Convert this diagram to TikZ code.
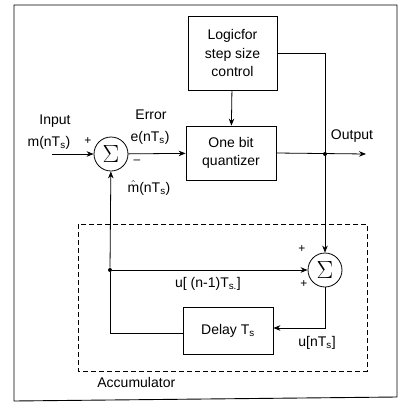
\documentclass[tikz,border=0pt]{standalone}
\usepackage{fontspec}
\setmainfont{Liberation Sans}
\usetikzlibrary{arrows.meta}
\begin{document}
\begin{tikzpicture}[x=1pt,y=-1pt,
  line width=0.8pt,
  blk/.style={draw,rectangle,inner sep=0pt,font=\fontsize{14}{18.5}\selectfont,align=center},
  sumnode/.style={draw,circle,minimum size=34pt,inner sep=0pt,font=\fontsize{24}{24}\selectfont},
  lbl/.style={font=\fontsize{14}{16}\selectfont,inner sep=0pt,align=center},
  sgn/.style={font=\fontsize{12}{12}\selectfont,inner sep=0pt},
  arr/.style={-{Stealth[length=7pt,width=5.5pt]}},
  dot/.style={circle,fill,inner sep=0pt,minimum size=4pt}]
\useasboundingbox (0,0) rectangle (407,413);
% outer frame
\draw[line width=0.9pt] (14,5) -- (397,5) -- (397,397) -- (14,401) -- cycle;
% blocks
\node[blk,minimum width=89pt,minimum height=74pt] (logic) at (232.5,53) {Logicfor\\step size\\control};
\node[blk,minimum width=90pt,minimum height=54pt] (quant) at (231,153) {One bit\\quantizer};
\node[blk,minimum width=90pt,minimum height=47pt] (delay) at (228,330.5) {Delay T\textsubscript{s}};
\node[sumnode] (s1) at (111,154) {$\Sigma$};
\node[sumnode] (s2) at (325,270) {$\Sigma$};
% accumulator dashed box
\draw[dashed,dash pattern=on 5pt off 3pt] (78,224) rectangle (367,371);
\node[lbl,anchor=west] (acc) at (97,382) {Accumulator};
% coordinates
\coordinate (inp) at (52,154);
\coordinate (out) at (366,154);
\node[dot] (j1) at (325,154) {};
\node[dot] (j2) at (110,270) {};
\coordinate (c1) at (325,53);
\coordinate (c2) at (325,328);
\coordinate (c3) at (110,333);
% connectors
\draw[arr] (inp) -- (s1);
\draw[arr] (s1) -- (quant);
\draw[arr] (logic) -- (quant);
\draw[arr] (quant.east) -- (out);
\draw[arr] (logic.east |- c1) -- (c1) -- (s2);
\draw[arr] (j2) -- (s2);
\draw[arr] (s2) -- (c2) -- (delay.east |- c2);
\draw (delay.west |- c3) -- (c3) -- (j2);
\draw[arr] (j2) -- (s1);
% labels
\node[lbl] (l1) at (55,121) {Input};
\node[lbl] (l2) at (49,143) {m(nT\textsubscript{s})};
\node[sgn] (p1) at (88,141) {+};
\node[sgn] (m1) at (137,162) {--};
\node[lbl] (l3) at (151,115) {Error};
\node[lbl] (l4) at (150,138) {e(nT\textsubscript{s})};
\node[lbl] (l5) at (149,188) {\ensuremath{\hat{\mbox{m}}}(nT\textsubscript{s})};
\node[lbl] (l6) at (352,136) {Output};
\node[sgn] (p2) at (302,249) {+};
\node[sgn] (p3) at (304,284) {+};
\node[lbl] (l7) at (208,284) {u[ (n-1)T\textsubscript{s.}]};
\node[lbl] (l8) at (317,343) {u[nT\textsubscript{s}]};
\end{tikzpicture}
\end{document}
